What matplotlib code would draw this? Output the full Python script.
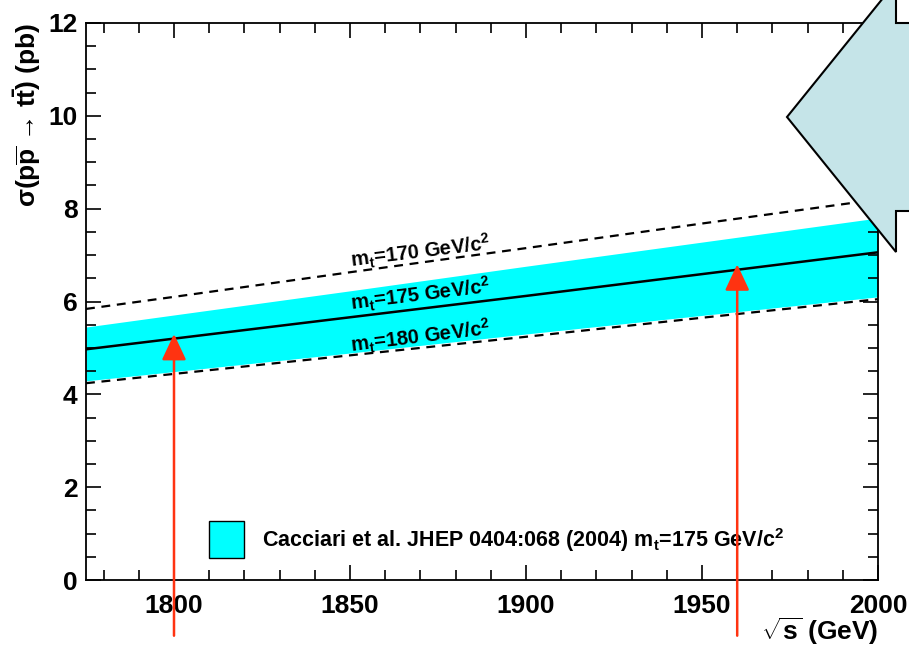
import matplotlib
matplotlib.use("Agg")
import matplotlib.pyplot as plt
from matplotlib.patches import Polygon, Rectangle

plt.rcParams['font.family'] = ['Liberation Sans', 'DejaVu Sans']
plt.rcParams['font.weight'] = 'bold'
plt.rcParams['mathtext.fontset'] = 'custom'
plt.rcParams['mathtext.rm'] = 'Liberation Sans:bold'
plt.rcParams['mathtext.bf'] = 'Liberation Sans:bold'
plt.rcParams['mathtext.it'] = 'Liberation Sans:bold'
plt.rcParams['mathtext.sf'] = 'Liberation Sans:bold'

# sqrt(s) in GeV
sqrt_s = [1775, 1800, 1850, 1900, 1950, 2000]
# cross sections (pb)
xs_175 = [4.97, 5.20, 5.66, 6.12, 6.59, 7.06]
band_hi = [5.45, 5.71, 6.23, 6.76, 7.28, 7.80]
band_lo = [4.29, 4.49, 4.89, 5.30, 5.70, 6.10]
xs_170 = [5.84, 6.10, 6.63, 7.15, 7.68, 8.20]
xs_180 = [4.24, 4.44, 4.84, 5.24, 5.65, 6.05]

mass_labels = [r'm$_{t}$=170 GeV/c$^{2}$', r'm$_{t}$=175 GeV/c$^{2}$', r'm$_{t}$=180 GeV/c$^{2}$']
label_y = [7.07, 6.14, 5.24]

arrow_x = [1800, 1960]
arrow_tip = [5.3, 6.8]

fig = plt.figure(figsize=(9.09, 6.47), dpi=100)
ax = fig.add_axes([86/909, 1-580/647, 792/909, 557/647])

ax.fill_between(sqrt_s, band_lo, band_hi, color='#00ffff', lw=0, zorder=1)
ax.plot(sqrt_s, xs_175, color='black', lw=1.8, zorder=3)
ax.plot(sqrt_s, xs_170, color='black', lw=1.6, ls=(0, (4, 3)), zorder=3)
ax.plot(sqrt_s, xs_180, color='black', lw=1.6, ls=(0, (4, 3)), zorder=3)

for t, yy in zip(mass_labels, label_y):
    ax.text(1870, yy, t, fontsize=14.5, fontweight='bold', rotation=7,
            ha='center', va='center', zorder=4)

ax.set_xlim(1775, 2000)
ax.set_ylim(0, 12)
ax.set_xticks([1800, 1850, 1900, 1950, 2000])
ax.set_xticks(range(1780, 2001, 10), minor=True)
ax.set_yticks([0, 2, 4, 6, 8, 10, 12])
ax.set_yticks([i * 0.5 for i in range(25)], minor=True)
ax.tick_params(which='both', direction='in', top=True, right=True, labelsize=19, width=1.2)
ax.tick_params(which='major', length=11)
ax.tick_params(which='minor', length=7)
ax.tick_params(axis='x', pad=10)
ax.tick_params(axis='y', pad=6)
for s in ax.spines.values():
    s.set_linewidth(1.3)

ax.set_ylabel(r'$\sigma$(p$\overline{\rm p}$ → t$\bar{\rm t}$) (pb)', fontsize=19,
              fontweight='bold', loc='top', labelpad=4)
ax.set_xlabel(r'$\sqrt{\rm s}$ (GeV)', fontsize=19, fontweight='bold', ha='right', va='center')
ax.xaxis.set_label_coords(1.0, -0.092)

# legend box
ax.add_patch(Rectangle((1810, 0.47), 10, 0.8, facecolor='#00ffff', edgecolor='black', lw=1, zorder=4))
ax.text(1825, 0.87, r'Cacciari et al. JHEP 0404:068 (2004) m$_{t}$=175 GeV/c$^{2}$',
        fontsize=15.5, fontweight='bold', va='center', ha='left', zorder=4)

for xa, ya in zip(arrow_x, arrow_tip):
    ax.annotate('', xy=(xa, ya), xytext=(xa, -1.2), annotation_clip=False,
                arrowprops=dict(arrowstyle='-|>,head_length=1.6,head_width=0.75',
                                mutation_scale=10, color='#ff3311', lw=1.8,
                                shrinkA=0, shrinkB=0), zorder=6)

# block arrow in the top right corner
px = [(787, 117), (896, -18), (896, 23), (920, 23), (920, 211), (896, 211), (896, 252)]
verts = [(x / 909, 1 - y / 647) for x, y in px]
fig.add_artist(Polygon(verts, closed=True, facecolor='#c5e4e8', edgecolor='black',
                       lw=1.5, transform=fig.transFigure, zorder=10))

fig.savefig('out.png', dpi=100)
